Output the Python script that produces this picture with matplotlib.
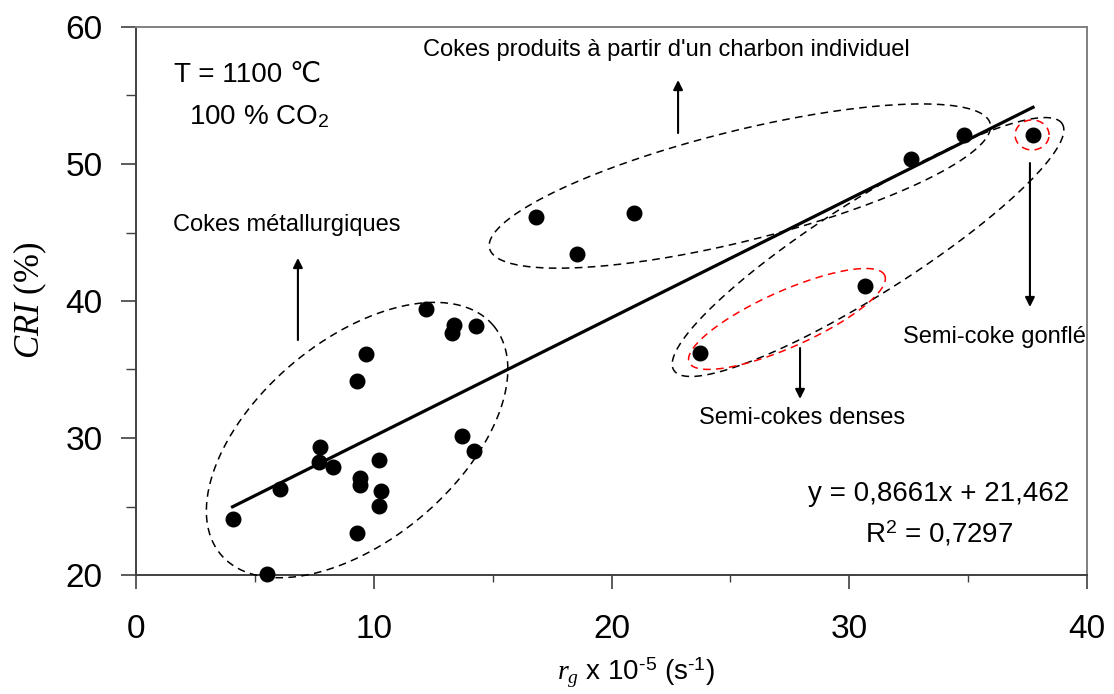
import numpy as np
import matplotlib
matplotlib.use("Agg")
import matplotlib.pyplot as plt
from matplotlib.ticker import MultipleLocator

# ---- data ----
rg_metallurgical = [4.06, 5.50, 6.06, 7.75, 7.68, 8.29, 9.31, 9.68, 9.43, 9.43,
                    9.31, 10.23, 10.29, 10.23, 12.21, 13.39, 13.29, 14.32, 13.70, 14.23]
cri_metallurgical = [24.1, 20.1, 26.25, 29.35, 28.25, 27.9, 34.15, 36.15, 27.1, 26.55,
                     23.05, 28.4, 26.15, 25.05, 39.4, 38.25, 37.65, 38.2, 30.15, 29.05]
rg_individual = [16.81, 18.56, 20.94, 32.59, 34.83]
cri_individual = [46.1, 43.4, 46.45, 50.35, 52.1]
rg_semicoke_dense = [23.71, 30.65]
cri_semicoke_dense = [36.2, 41.1]
rg_semicoke_swollen = [37.73]
cri_semicoke_swollen = [52.1]

slope = 0.8661
intercept = 21.462
r2_text = "R$^2$ = 0,7297"
eq_text = "y = 0,8661x + 21,462"

x_ticks = [0, 10, 20, 30, 40]
y_ticks = [20, 30, 40, 50, 60]

plt.rcParams['font.family'] = ['Liberation Sans', 'DejaVu Sans']
plt.rcParams['mathtext.fontset'] = 'custom'
plt.rcParams['mathtext.rm'] = 'Liberation Sans'
plt.rcParams['mathtext.it'] = 'Liberation Serif:italic'

fig = plt.figure(figsize=(11.14, 6.94), dpi=100)
ax = fig.add_axes([136/1114, 1-575/694, (1087-136)/1114, (575-27)/694])
ax.set_xlim(0, 40)
ax.set_ylim(20, 60)

all_x = rg_metallurgical + rg_individual + rg_semicoke_dense + rg_semicoke_swollen
all_y = cri_metallurgical + cri_individual + cri_semicoke_dense + cri_semicoke_swollen
ax.scatter(all_x, all_y, s=110, color='black', zorder=5, clip_on=False)

xl = np.array([min(all_x), max(all_x)])
ax.plot(xl, slope*xl + intercept, color='black', lw=2.3, zorder=4)

# pixel scales
sx = ax.bbox.width / 40.0
sy = ax.bbox.height / 40.0

def px_ellipse(cx, cy, a, b, ang, color):
    t = np.linspace(0, 2*np.pi, 400)
    th = np.deg2rad(ang)
    dx = a*np.cos(t)*np.cos(th) - b*np.sin(t)*np.sin(th)
    dy = a*np.cos(t)*np.sin(th) + b*np.sin(t)*np.cos(th)
    ax.plot(cx + dx/sx, cy + dy/sy, color=color, lw=1.1,
            linestyle=(0, (5, 3.5)), zorder=3, clip_on=False)

px_ellipse(9.30, 29.85, 178, 100, 40, 'black')
px_ellipse(25.40, 48.39, 258, 55, 14, 'black')
px_ellipse(30.79, 43.94, 230, 47, 32.4, 'black')
px_ellipse(27.38, 38.69, 107, 28, 24, 'red')
px_ellipse(37.69, 52.12, 17, 15, 0, 'red')

def arrow(x, y0, y1):
    ax.annotate('', xy=(x, y1), xytext=(x, y0),
                arrowprops=dict(arrowstyle='-|>', color='black', lw=1.5,
                                mutation_scale=14, shrinkA=0, shrinkB=0))

arrow(6.81, 37.15, 43.14)
arrow(22.80, 52.26, 56.13)
arrow(37.60, 50.07, 39.56)
arrow(27.93, 36.57, 32.85)

ax.text(6.35, 45.55, "Cokes métallurgiques", fontsize=17, ha='center', va='center')
ax.text(22.29, 58.32, "Cokes produits à partir d'un charbon individuel", fontsize=17,
        ha='center', va='center')
ax.text(32.26, 37.37, "Semi-coke gonflé", fontsize=17, ha='left', va='center')
ax.text(28.01, 31.46, "Semi-cokes denses", fontsize=17, ha='center', va='center')
ax.text(1.6, 56.5, "T = 1100 \u2103", fontsize=20, ha='left', va='center')
ax.text(2.25, 53.43, "100 % CO$_2$", fontsize=20, ha='left', va='center')
ax.text(33.75, 25.9, eq_text, fontsize=20, ha='center', va='center')
ax.text(33.8, 23.0, r2_text, fontsize=20, ha='center', va='center')

ax.set_xticks(x_ticks)
ax.set_yticks(y_ticks)
ax.xaxis.set_minor_locator(MultipleLocator(5))
ax.yaxis.set_minor_locator(MultipleLocator(5))
ax.tick_params(axis='x', which='major', direction='out', length=10, width=1.2,
               labelsize=24, color='#404040', pad=18)
ax.tick_params(axis='y', which='major', direction='out', length=11, width=1.2,
               labelsize=24, color='#404040', pad=13)
ax.tick_params(axis='x', which='minor', direction='out', length=5, width=1.0, color='#404040')
ax.tick_params(axis='y', which='minor', direction='out', length=7, width=1.0, color='#404040')

for s in ['left', 'bottom']:
    ax.spines[s].set_color('#404040')
    ax.spines[s].set_linewidth(1.4)
for s in ['top', 'right']:
    ax.spines[s].set_color('#808080')
    ax.spines[s].set_linewidth(1.4)

fig.text(30/1114, 1-300/694, "$CRI$ (%)", fontsize=25, family='Liberation Serif',
         rotation=90, ha='center', va='center')
fig.text(636/1114, 1-680/694, r"$r_g$ x 10$^{\text{-}5}$ (s$^{\text{-}1}$)", fontsize=20,
         ha='center', va='baseline')

fig.savefig("out.png", dpi=100)
